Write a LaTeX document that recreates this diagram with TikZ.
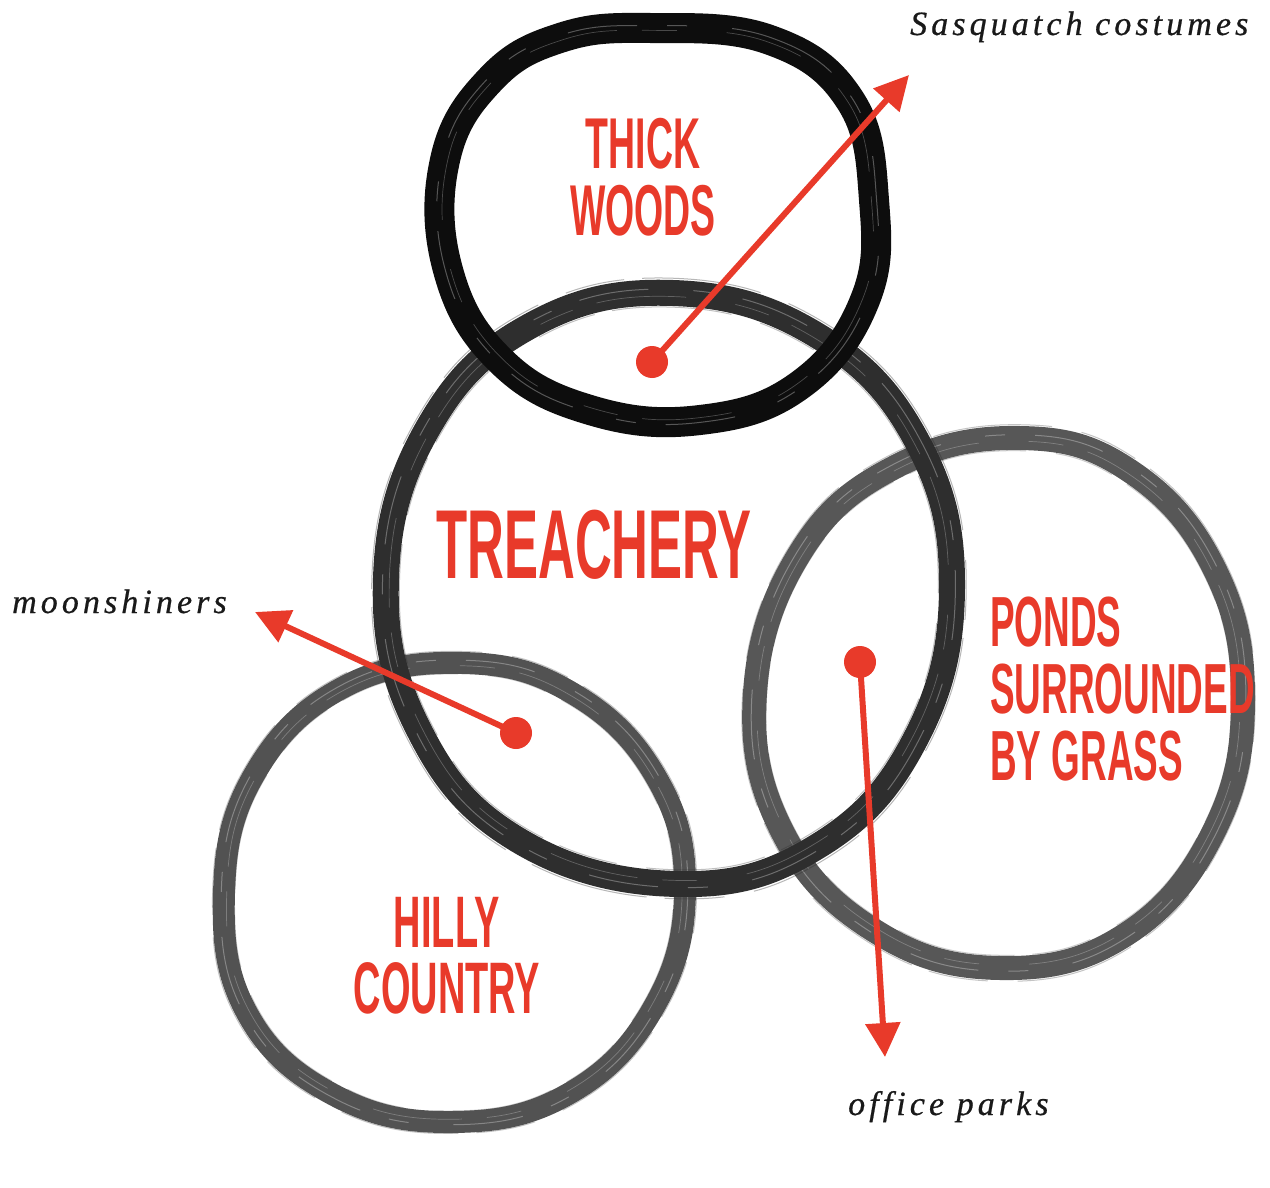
\documentclass[tikz,border=0pt]{standalone}
\usepackage{fontspec}
\usetikzlibrary{arrows.meta}
\newfontfamily\condfont[FakeStretch=0.52]{Liberation Sans Bold}
\newfontfamily\labelfont[LetterSpace=12,FakeBold=0.6]{Liberation Serif Italic}
\definecolor{accent}{RGB}{232,58,42}
\colorlet{inkwoods}{black!95}
\colorlet{inktreach}{black!82}
\colorlet{inkponds}{black!66}
\colorlet{inkhilly}{black!68}
\newcommand\brushring[4]{%
  \begin{scope}[shift={#1}]
    \draw[draw=#2, line width=#3, line join=round] plot[smooth cycle, tension=0.7] coordinates {#4};
    \foreach \s/\w/\o in {0.968/2.5/0.5, 1.034/2/0.45, 1.05/1/0.35, 0.952/1/0.3}{
      \begin{scope}[scale=\s]
        \draw[draw=#2, line width=\w pt, opacity=\o, dash pattern=on 120pt off 18pt on 60pt off 30pt] plot[smooth cycle, tension=0.7] coordinates {#4};
      \end{scope}}
    \begin{scope}[scale=1.012]
      \draw[white, line width=1pt, opacity=0.3, dash pattern=on 70pt off 30pt on 20pt off 45pt] plot[smooth cycle, tension=0.7] coordinates {#4};
    \end{scope}
    \begin{scope}[scale=0.988]
      \draw[white, line width=0.7pt, opacity=0.25, dash pattern=on 35pt off 50pt on 90pt off 25pt] plot[smooth cycle, tension=0.7] coordinates {#4};
    \end{scope}
  \end{scope}}
\tikzset{
  bigcaps/.style={text=accent, inner sep=0pt, font=\condfont},
  note/.style={text=black!90, inner sep=0pt, anchor=base west, font=\labelfont\fontsize{34}{40}\selectfont},
  spot/.style={circle, fill=accent, minimum size=32pt, inner sep=0pt},
  pointer/.style={draw=accent, line width=6pt, -{Triangle[length=34pt,width=34pt]}}
}
\begin{document}
\begin{tikzpicture}[x=1pt,y=-1pt]
\fill[white] (0,0) rectangle (1270,1188);
\useasboundingbox (0,0) rectangle (1270,1188);

% hilly country ring
\brushring{(452,893)}{inkhilly}{22pt}{(233,-5) (204,-116) (120,-200) (10,-230) (-110,-205) (-198,-118) (-228,0) (-205,120) (-118,202) (0,229) (118,200) (203,112)}
% ponds ring
\brushring{(1000,703)}{inkponds}{24pt}{(243,-5) (214,-135) (130,-232) (20,-265) (-105,-236) (-200,-150) (-245,-10) (-218,128) (-125,228) (0,265) (125,232) (214,128)}
% treachery ring
\brushring{(668,588)}{inktreach}{26pt}{(284,0) (250,-145) (150,-252) (5,-295) (-138,-262) (-240,-160) (-282,-10) (-250,140) (-150,252) (10,296) (150,258) (248,150)}
% thick woods ring
\brushring{(660,225)}{inkwoods}{30pt}{(-10,-197) (110,-185) (190,-125) (214,-25) (205,75) (140,160) (40,195) (-70,185) (-160,135) (-212,45) (-215,-65) (-170,-145) (-100,-187)}

% labels in rings
\node[bigcaps, anchor=north, align=center, font=\condfont\fontsize{72}{67}\selectfont] (tw) at (643,118) {THICK\\WOODS};
\node[bigcaps, anchor=north, font=\condfont\fontsize{98}{100}\selectfont] (tr) at (594,510) {TREACHERY};
\node[bigcaps, anchor=north west, align=left, font=\condfont\fontsize{71}{67}\selectfont] (po) at (990,597) {PONDS\\SURROUNDED\\BY GRASS};
\node[bigcaps, anchor=north, align=center, font=\condfont\fontsize{73}{66}\selectfont] (hi) at (447,897) {HILLY\\COUNTRY};

% side notes
\node[note] (ls) at (910,35) {Sasquatch costumes};
\node[note] (lm) at (12,613) {moonshiners};
\node[note] (lo) at (848,1115) {office parks};

% pointers
\coordinate (t1) at (909,75);
\coordinate (t2) at (255,612);
\coordinate (t3) at (885,1057);
\node[spot] (d1) at (652,362) {};
\node[spot] (d2) at (516,733) {};
\node[spot] (d3) at (860,662) {};
\draw[pointer] (d1.center) -- (t1);
\draw[pointer] (d2.center) -- (t2);
\draw[pointer] (d3.center) -- (t3);
\end{tikzpicture}
\end{document}
